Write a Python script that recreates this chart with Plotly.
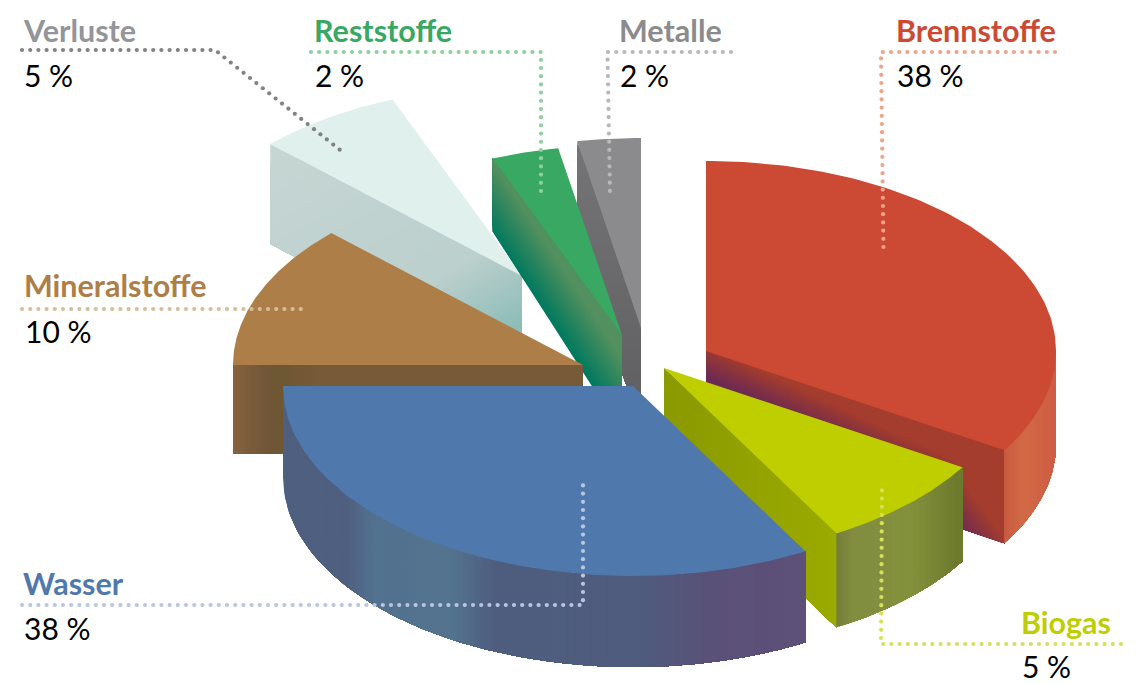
import numpy as np
import plotly.graph_objects as go

# ---------- data ----------
categories = ["Brennstoffe", "Biogas", "Wasser", "Mineralstoffe", "Verluste", "Reststoffe", "Metalle"]
percent_labels = ["38 %", "5 %", "38 %", "10 %", "5 %", "2 %", "2 %"]
# the picture does not draw its wedges to scale: swept angle of each wedge, clockwise from 12 o'clock
drawn_sweep_deg = [121.5, 29.0, 119.5, 44.0, 24.3, 11.2, 10.5]

# ---------- layout / style ----------
W, H = 1144, 684
RX, RY = 350.0, 190.0
apex = {"Brennstoffe": (706, 351), "Biogas": (664, 368), "Wasser": (633, 386), "Mineralstoffe": (583, 365),
        "Verluste": (522, 276), "Reststoffe": (622, 335), "Metalle": (641, 328)}
depth_rim = {"Brennstoffe": 93, "Biogas": 94, "Wasser": 91, "Mineralstoffe": 89,
             "Verluste": 100, "Reststoffe": 73, "Metalle": 100}
depth_apex = {"Brennstoffe": 93, "Biogas": 94, "Wasser": 91, "Mineralstoffe": 89,
              "Verluste": 100, "Reststoffe": 98, "Metalle": 100}
top_color = {"Brennstoffe": "#cc4a33", "Biogas": "#bece00", "Wasser": "#4f79ad", "Mineralstoffe": "#ae7e48",
             "Verluste": "#e0f0ec", "Reststoffe": "#38a862", "Metalle": "#8b8b8d"}
label_color = {"Brennstoffe": "#cc4a33", "Biogas": "#bece00", "Wasser": "#4f79ad", "Mineralstoffe": "#ae7e48",
               "Verluste": "#939598", "Reststoffe": "#38a862", "Metalle": "#8b8b8d"}
paint_order = ["Brennstoffe", "Metalle", "Verluste", "Reststoffe", "Mineralstoffe", "Biogas", "Wasser"]

# gradients: (start point, end point, [(offset, colour), ...])
face_grad = {
    "Brennstoffe": ((960, 497), (972.6, 470), [(0, "#6b2a55"), (1, "#a43d2e")]),
    "Biogas": ((665, 0), (837, 0), [(0, "#8a9a00"), (1, "#9cab00")]),
    "Mineralstoffe": ((233, 0), (583, 0), [(0, "#84633f"), (0.08, "#73583a"), (0.12, "#6e5733"), (0.27, "#7a5b39"), (1, "#785a38")]),
    "Verluste": ((276, 157), (408, 387), [(0, "#c6d6d3"), (0.7, "#bcd0cd"), (1, "#8ebdb9")]),
    "Reststoffe": ((540, 306), (572, 285), [(0, "#007a60"), (1, "#52905f")]),
    "Metalle": ((0, 143), (0, 385), [(0, "#757577"), (1, "#626264")]),
}
# shadow on the red cut face turns towards the rim right of the Biogas wedge
brenn_right_from_x = 958
brenn_right_grad = ((958, 530), (983.6, 510.8), [(0, "#6b2a55"), (1, "#a43d2e")])
rim_grad = {
    "Brennstoffe": ((1001, 0), (1056, 0), [(0, "#c85a3f"), (0.4, "#d26a47"), (1, "#cf5c44")]),
    "Biogas": ((837, 0), (958, 0), [(0, "#76803a"), (0.12, "#828e40"), (0.6, "#84913c"), (1, "#6d7a2e")]),
    "Wasser": ((283, 0), (806, 0), [(0, "#4f5f80"), (0.12, "#50607f"), (0.17, "#537290"), (0.32, "#53748f"),
                                    (0.40, "#505e7f"), (0.68, "#4f5c7d"), (0.80, "#5a5279"), (1, "#5e5079")]),
}

# leader lines: colour and polyline
leaders = {
    "Verluste": ("#808285", [(22, 50), (215, 50), (340, 150)]),
    "Reststoffe": ("#8fcfa0", [(311, 52), (541, 52), (541, 192)]),
    "Metalle": ("#b8b8ba", [(731, 52), (607.5, 52), (610, 193)]),
    "Brennstoffe": ("#eda48c", [(1055, 52), (881, 52), (883.5, 250)]),
    "Mineralstoffe": ("#d9bd99", [(22, 309), (305, 309)]),
    "Wasser": ("#b9c6e0", [(22, 605), (583, 605), (583, 480)]),
    "Biogas": ("#d6e05e", [(1121, 644), (881, 644), (882, 488)]),
}
label_pos = {  # x, y of name, y of value
    "Verluste": (24, 30, 75), "Reststoffe": (315, 30, 75), "Metalle": (620, 30, 75), "Brennstoffe": (897, 30, 75),
    "Mineralstoffe": (25, 285, 331), "Wasser": (24, 583, 628), "Biogas": (1022, 622, 666),
}


def hex2rgb(c):
    return np.array([int(c[i:i + 2], 16) for i in (1, 3, 5)], float)


def color_at(stops, t):
    offs = [s[0] for s in stops]
    rgb = np.array([hex2rgb(s[1]) for s in stops])
    return "rgb(%d,%d,%d)" % tuple(np.interp(t, offs, rgb[:, k]) for k in range(3))


def clip(poly, p0, d, s):
    """keep the part of poly with (p-p0).d >= s"""
    out = []
    n = len(poly)
    for i in range(n):
        a, b = poly[i], poly[(i + 1) % n]
        fa, fb = np.dot(a - p0, d) - s, np.dot(b - p0, d) - s
        if fa >= 0:
            out.append(a)
        if fa * fb < 0:
            out.append(a + (b - a) * fa / (fa - fb))
    return out


fig = go.Figure()


def fill(poly, color):
    pts = np.array(list(poly) + [poly[0]])
    fig.add_trace(go.Scatter(x=pts[:, 0], y=pts[:, 1], mode="lines", fill="toself", fillcolor=color,
                             line=dict(width=0), hoverinfo="skip", showlegend=False))


def fill_gradient(poly, grad):
    p0, p1, stops = np.array(grad[0], float), np.array(grad[1], float), grad[2]
    vec = p1 - p0
    length = np.hypot(*vec)
    steps = int(max(36, length / 2))
    d = vec / length
    poly = [np.array(p, float) for p in poly]
    fill(poly, color_at(stops, 0))
    for i in range(1, steps + 1):
        t = i / steps
        part = clip(poly, p0, d, t * length)
        if len(part) >= 3:
            fill(part, color_at(stops, t))


def rim_point(c, t):
    return np.array([c[0] + RX * np.cos(t), c[1] - RY * np.sin(t)])


# wedge angles accumulate clockwise from 12 o'clock
edges = 90.0 - np.concatenate([[0.0], np.cumsum(drawn_sweep_deg)])
span = {name: (np.radians(edges[i]), np.radians(edges[i + 1])) for i, name in enumerate(categories)}

for name in paint_order:
    t0, t1 = span[name]
    c = np.array(apex[name], float)
    dr, da = depth_rim[name], depth_apex[name]
    down_r, down_a = np.array([0, dr]), np.array([0, da])

    def cut_face(t):
        p = rim_point(c, t)
        return [c, p, p + down_r, c + down_a]

    # cut faces that look towards the viewer
    if np.cos(t0) < 0:
        fill_gradient(cut_face(t0), face_grad[name])
    if np.cos(t1) > 1e-6:
        face = cut_face(t1)
        fill_gradient(face, face_grad[name])
        if name == "Brennstoffe":
            right = clip([np.array(p, float) for p in face], np.zeros(2), np.array([1.0, 0.0]), brenn_right_from_x)
            fill_gradient(right, brenn_right_grad)
    # outer rim: only its lower half can be seen
    if name in rim_grad:
        ts = np.linspace(t1, min(t0, 0.0), 80)
        upper = [rim_point(c, t) for t in ts]
        lower = [p + down_r for p in upper[::-1]]
        fill_gradient(upper + lower, rim_grad[name])
    # top face
    ts = np.linspace(t0, t1, 120)
    fill([c] + [rim_point(c, t) for t in ts], top_color[name])

# leader lines as rows of dots
for name, (color, path) in leaders.items():
    path = np.array(path, float)
    seg = np.hypot(*np.diff(path, axis=0).T)
    cum = np.concatenate([[0], np.cumsum(seg)])
    s = np.arange(0, cum[-1] + 0.1, 8.2)
    fig.add_trace(go.Scatter(x=np.interp(s, cum, path[:, 0]), y=np.interp(s, cum, path[:, 1]), mode="markers",
                             marker=dict(size=4.2, color=color, line=dict(width=0)),
                             hoverinfo="skip", showlegend=False))

for name, pct in zip(categories, percent_labels):
    x, y1, y2 = label_pos[name]
    fig.add_annotation(x=x, y=y1, text="<b>%s</b>" % name, showarrow=False, xanchor="left", yanchor="middle",
                       xshift=-3, font=dict(family="Lato", size=30.5, color=label_color[name]))
    fig.add_annotation(x=x, y=y2, text=pct, showarrow=False, xanchor="left", yanchor="middle",
                       xshift=-2, font=dict(family="Lato", size=30, color="#000000"))

fig.update_layout(width=W, height=H, margin=dict(l=0, r=0, t=0, b=0), paper_bgcolor="white", plot_bgcolor="white",
                  xaxis=dict(range=[0, W], visible=False, fixedrange=True),
                  yaxis=dict(range=[H, 0], visible=False, fixedrange=True),
                  showlegend=False)
fig.write_html("out.html", config={"displayModeBar": False},
               post_script="document.body.style.margin='0';")
